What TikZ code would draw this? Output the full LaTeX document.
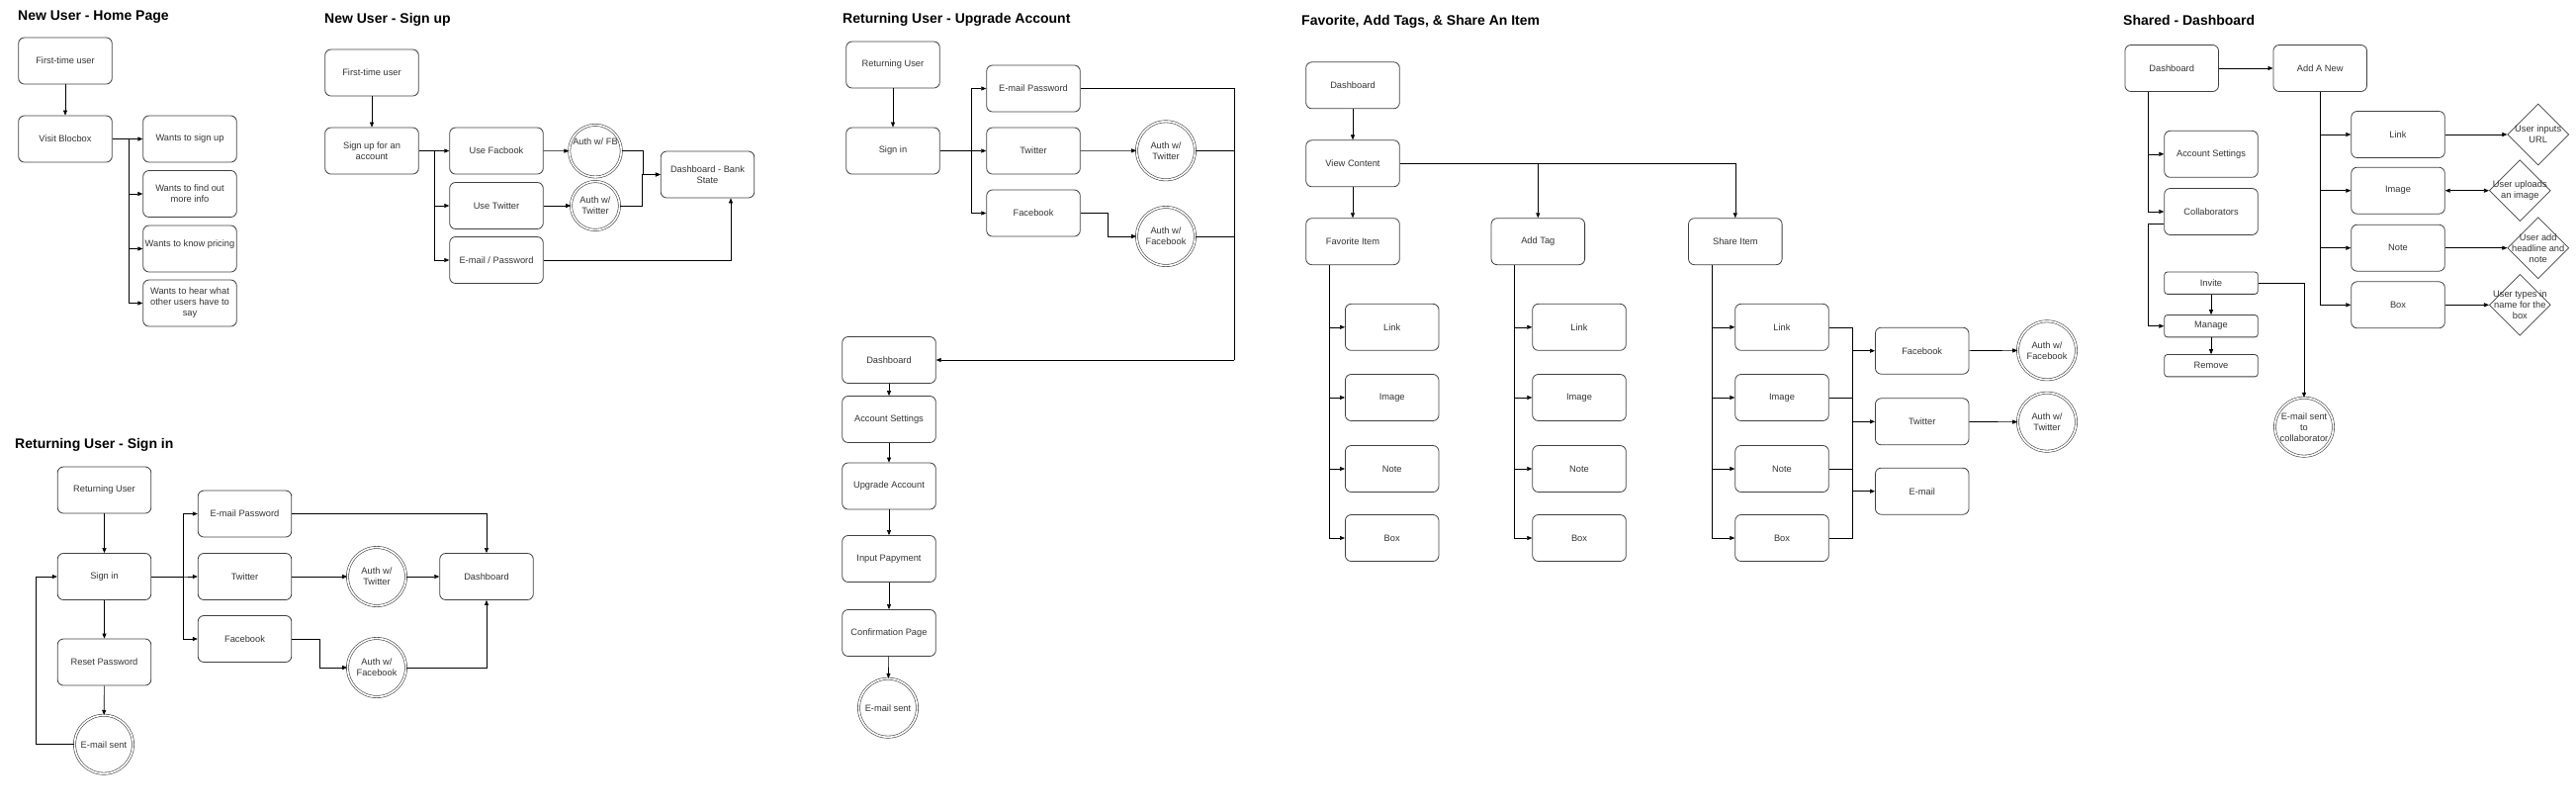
\documentclass[tikz,border=0pt]{standalone}
\usepackage{fontspec}
\setmainfont{Liberation Sans}
\usetikzlibrary{arrows.meta,shapes.geometric}

\begin{document}
\begin{tikzpicture}[x=1pt, y=-1pt,
  box/.style={rectangle, rounded corners=6pt, draw=black!75, line width=0.8pt, minimum width=94.6pt, minimum height=47pt, inner sep=1pt, align=center, font=\fontsize{9.3}{11}\selectfont, text=black!80},
  smallbox/.style={box, minimum height=22.3pt, rounded corners=3pt},
  endnode/.style={circle, draw=black!75, double, double distance=1.6pt, line width=0.6pt, minimum size=59pt, inner sep=0pt, align=center, font=\fontsize{9.3}{11}\selectfont, text=black!80},
  smallend/.style={endnode, minimum size=49pt},
  choice/.style={diamond, draw=black!75, line width=0.7pt, minimum width=62pt, minimum height=62pt, inner sep=0pt},
  ctext/.style={align=center, inner sep=0pt, font=\fontsize{9.3}{11}\selectfont, text=black!80},
  title/.style={anchor=base west, inner sep=0pt, font=\fontsize{14}{17}\selectfont\bfseries},
  conn/.style={line width=0.6pt},
  arr/.style={conn, -{Triangle[length=5pt,width=4pt]}},
  arrboth/.style={conn, {Triangle[length=5pt,width=4pt]}-{Triangle[length=5pt,width=4pt]}}
]
\useasboundingbox (0,0) rectangle (2605,817);

\node (hometitle)[title] at (18,20) {New User - Home Page};
\node (newuser1)[box] at (66,61.5) {First-time user};
\node (visit)[box] at (66,140.5) {Visit Blocbox};
\node (signupwish)[box] at (192,140.5) {Wants to sign up};
\node (infowish)[box] at (192,196) {Wants to find out\\more info};
\node (pricewish)[box] at (192,251.5) {\raisebox{11pt}{Wants to know pricing}};
\node (hearwish)[box] at (192,306.5) {Wants to hear what\\other users have to\\say};
\draw[arr] (newuser1) -- (visit);
\draw[arr] (visit.east) -- ++(17,0) |- (signupwish);
\draw[arr] (visit.east) -- ++(17,0) |- (infowish);
\draw[arr] (visit.east) -- ++(17,0) |- (pricewish);
\draw[arr] (visit.east) -- ++(17,0) |- (hearwish);

\node (signuptitle)[title] at (328,23.5) {New User - Sign up};
\node (newuser2)[box] at (376,73.5) {First-time user};
\node (signup)[box] at (376,152.5) {Sign up for an\\account};
\node (usefb)[box] at (502,152.5) {Use Facbook};
\node (usetw)[box] at (502,208) {Use Twitter};
\node (usemail)[box] at (502,263) {E-mail / Password};
\node (authfb0)[smallend] at (602,152.7) {\raisebox{20pt}{Auth w/ FB}};
\node (authtw0)[smallend] at (602,208) {Auth w/\\Twitter};
\node (blank)[box] at (715.5,176.5) {Dashboard - Bank\\State};
\draw[arr] (newuser2) -- (signup);
\draw[arr] (signup.east) -- ++(16,0) |- (usefb);
\draw[arr] (signup.east) -- ++(16,0) |- (usetw);
\draw[arr] (signup.east) -- ++(16,0) |- (usemail);
\draw[arr] (usefb) -- (authfb0);
\draw[arr] (usetw) -- (authtw0);
\draw[arr] (authfb0.east) -- ++(22,0) |- (blank);
\draw[arr] (authtw0.east) -- ++(22,0) |- (blank);
\draw[arr] (usemail.east) -| ([xshift=23.5pt]blank.south);

\node (signintitle)[title] at (15,453.5) {Returning User - Sign in};
\node (back1)[box] at (105.5,495.5) {Returning User};
\node (signin1)[box] at (105.5,583) {Sign in};
\node (reset)[box] at (105.5,669.5) {Reset Password};
\node (resetmail)[endnode] at (105,752.7) {E-mail sent};
\node (mailpw1)[box] at (247.5,519.5) {E-mail Password};
\node (twitter1)[box] at (247.5,583) {Twitter};
\node (facebook1)[box] at (247.5,646) {Facebook};
\node (authtw1)[endnode] at (381,583) {Auth w/\\Twitter};
\node (authfb1)[endnode] at (381,675) {Auth w/\\Facebook};
\node (dash1)[box] at (492,583) {Dashboard};
\draw[arr] (back1) -- (signin1);
\draw[arr] (signin1) -- (reset);
\draw[arr] (reset) -- (resetmail);
\draw[arr] (resetmail.west) -- ++(-39,0) |- (signin1);
\draw[arr] (signin1.east) -- ++(32,0) |- (mailpw1);
\draw[arr] (signin1.east) -- ++(32,0) |- (twitter1);
\draw[arr] (signin1.east) -- ++(32,0) |- (facebook1);
\draw[arr] (mailpw1.east) -| (dash1);
\draw[arr] (twitter1) -- (authtw1);
\draw[arr] (authtw1) -- (dash1);
\draw[arr] (facebook1.east) -- ++(28,0) |- (authfb1);
\draw[arr] (authfb1.east) -| (dash1);

\node (upgradetitle)[title] at (852,23) {Returning User - Upgrade Account};
\node (back2)[box] at (903,65.5) {Returning User};
\node (signin2)[box] at (903,152.5) {Sign in};
\node (mailpw2)[box] at (1045,89.5) {E-mail Password};
\node (twitter2)[box] at (1045,152.5) {Twitter};
\node (facebook2)[box] at (1045,215.5) {Facebook};
\node (authtw2)[endnode] at (1179,152.3) {Auth w/\\Twitter};
\node (authfb2)[endnode] at (1179,239) {Auth w/\\Facebook};
\coordinate (merge2) at (1248,364);
\node (dash2)[box] at (899,364) {Dashboard};
\node (settings2)[box] at (899,424) {Account Settings};
\node (upgrade)[box] at (899,491.5) {Upgrade Account};
\node (payment)[box] at (899,565) {Input Papyment};
\node (confirm)[box] at (899,640) {Confirmation Page};
\node (confirmmail)[endnode] at (898,715.7) {E-mail sent};
\draw[arr] (back2) -- (signin2);
\draw[arr] (signin2.east) -- ++(32,0) |- (mailpw2);
\draw[arr] (signin2.east) -- ++(32,0) |- (twitter2);
\draw[arr] (signin2.east) -- ++(32,0) |- (facebook2);
\draw[arr] (twitter2) -- (authtw2);
\draw[arr] (facebook2.east) -- ++(28,0) |- (authfb2);
\draw[conn] (mailpw2.east) -| (merge2);
\draw[conn] (authtw2.east) -| (merge2);
\draw[conn] (authfb2.east) -| (merge2);
\draw[arr] (merge2) -- (dash2);
\draw[arr] (dash2) -- (settings2);
\draw[arr] (settings2) -- (upgrade);
\draw[arr] (upgrade) -- (payment);
\draw[arr] (payment) -- (confirm);
\draw[arr] (confirm) -- (confirmmail);

\node (itemtitle)[title] at (1316,25) {Favorite, Add Tags, \& Share An Item};
\node (dash3)[box] at (1368,86.3) {Dashboard};
\node (view)[box] at (1368,165.3) {View Content};
\node (fav)[box] at (1368,244.2) {Favorite Item};
\node (tag)[box] at (1555.3,244.2) {Add Tag};
\node (share)[box] at (1754.8,244.2) {Share Item};
\node (favlink)[box] at (1407.7,330.8) {Link};
\node (favimage)[box] at (1407.7,402) {Image};
\node (favnote)[box] at (1407.7,474) {Note};
\node (favbox)[box] at (1407.7,544) {Box};
\node (taglink)[box] at (1597,330.8) {Link};
\node (tagimage)[box] at (1597,402) {Image};
\node (tagnote)[box] at (1597,474) {Note};
\node (tagbox)[box] at (1597,544) {Box};
\node (sharelink)[box] at (1802,330.8) {Link};
\node (shareimage)[box] at (1802,402) {Image};
\node (sharenote)[box] at (1802,474) {Note};
\node (sharebox)[box] at (1802,544) {Box};
\node (sharefb)[box] at (1943.7,354.7) {Facebook};
\node (sharetw)[box] at (1943.7,426.3) {Twitter};
\node (sharemail)[box] at (1943.7,496.7) {E-mail};
\node (shareauthfb)[endnode] at (2070,354.3) {Auth w/\\Facebook};
\node (shareauthtw)[endnode] at (2070,426.7) {Auth w/\\Twitter};
\coordinate (sharetop) at (1873,330.8);
\coordinate (sharebot) at (1873,544);
\draw[arr] (dash3) -- (view);
\draw[arr] (view) -- (fav);
\draw[arr] (view.east) -| (tag);
\draw[arr] (view.east) -| (share);
\draw[arr] ([xshift=-23.7pt]fav.south) |- (favlink);
\draw[arr] ([xshift=-23.7pt]fav.south) |- (favimage);
\draw[arr] ([xshift=-23.7pt]fav.south) |- (favnote);
\draw[arr] ([xshift=-23.7pt]fav.south) |- (favbox);
\draw[arr] ([xshift=-23.6pt]tag.south) |- (taglink);
\draw[arr] ([xshift=-23.6pt]tag.south) |- (tagimage);
\draw[arr] ([xshift=-23.6pt]tag.south) |- (tagnote);
\draw[arr] ([xshift=-23.6pt]tag.south) |- (tagbox);
\draw[arr] ([xshift=-23.1pt]share.south) |- (sharelink);
\draw[arr] ([xshift=-23.1pt]share.south) |- (shareimage);
\draw[arr] ([xshift=-23.1pt]share.south) |- (sharenote);
\draw[arr] ([xshift=-23.1pt]share.south) |- (sharebox);
\draw[conn] (sharelink.east) -- (sharetop) -- (sharebot) -- (sharebox.east);
\draw[conn] (shareimage.east) -- (shareimage.east -| sharetop);
\draw[conn] (sharenote.east) -- (sharenote.east -| sharetop);
\draw[arr] (sharetop |- sharefb) -- (sharefb);
\draw[arr] (sharetop |- sharetw) -- (sharetw);
\draw[arr] (sharetop |- sharemail) -- (sharemail);
\draw[arr] (sharefb) -- (shareauthfb);
\draw[arr] (sharetw) -- (shareauthtw);

\node (sharedtitle)[title] at (2147,25) {Shared - Dashboard};
\node (dash4)[box] at (2196.2,69) {Dashboard};
\node (addnew)[box] at (2346.2,69) {Add A New};
\node (settings4)[box] at (2236,155.8) {Account Settings};
\node (collab)[box] at (2236,214) {Collaborators};
\node (invite)[smallbox] at (2236,286.2) {Invite};
\node (manage)[smallbox] at (2236,329.7) {Manage};
\node (remove)[smallbox] at (2236,369.7) {Remove};
\node (invitemail)[endnode] at (2330,431.7) {E-mail sent\\to\\collaborator};
\node (newlink)[box] at (2425,136) {Link};
\node (newimage)[box] at (2425,192.7) {Image};
\node (newnote)[box] at (2425,250.7) {Note};
\node (newbox)[box] at (2425,308.3) {Box};
\node (urlstep)[choice, label={[ctext]center:{User inputs\\URL}}] at (2566.7,136) {};
\node (uploadstep)[choice, label={[ctext]center:{User uploads\\an image}}] at (2548.3,192.7) {};
\node (headlinestep)[choice, label={[ctext]center:{User add\\headline and\\note}}] at (2566.7,250.7) {};
\node (namestep)[choice, label={[ctext]center:{User types in\\name for the\\box}}] at (2548.3,308.3) {};
\draw[arr] (dash4) -- (addnew);
\draw[arr] ([xshift=-23.5pt]dash4.south) |- (settings4);
\draw[arr] ([xshift=-23.5pt]dash4.south) |- (collab);
\draw[arr] ([yshift=-12pt]collab.west) -- ++(-16,0) |- (manage);
\draw[arr] (invite) -- (manage);
\draw[arr] (manage) -- (remove);
\draw[arr] (invite.east) -| (invitemail);
\draw[arr] (addnew.south) |- (newlink);
\draw[arr] (addnew.south) |- (newimage);
\draw[arr] (addnew.south) |- (newnote);
\draw[arr] (addnew.south) |- (newbox);
\draw[arr] (newlink) -- (urlstep);
\draw[arrboth] (newimage) -- (uploadstep);
\draw[arr] (newnote) -- (headlinestep);
\draw[arr] (newbox) -- (namestep);
\end{tikzpicture}
\end{document}
